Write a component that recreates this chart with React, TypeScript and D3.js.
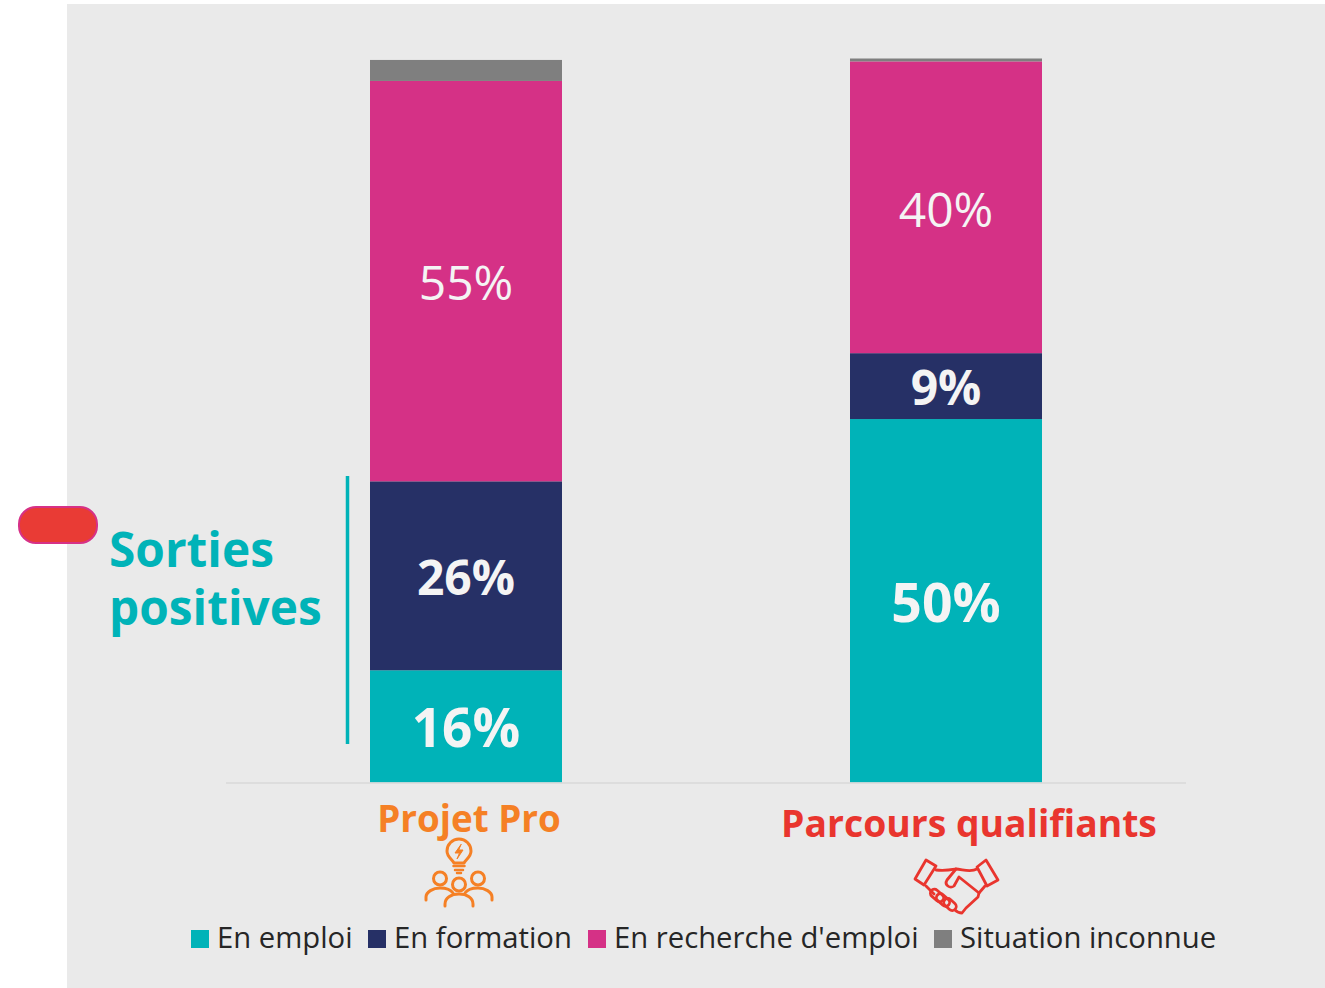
import React from "react";
import * as d3 from "d3";

const categories = ["Projet Pro", "Parcours qualifiants"];
const seriesNames = ["En emploi", "En formation", "En recherche d'emploi", "Situation inconnue"];
const enEmploi = [15.5, 50.2];
const enFormation = [26.1, 9.1];
const enRecherche = [55.3, 40.3];
const inconnue = [2.9, 0.4];
const seriesColors = ["#00B3B8", "#263066", "#D53186", "#7F7F7F"];
const seriesValues = [enEmploi, enFormation, enRecherche, inconnue];
const FONT = "'Open Sans', sans-serif";

const W = 1325, H = 988;
const labelStyle = [
  [{ size: 53, weight: 700 }, { size: 48, weight: 700 }, { size: 48, weight: 400 }],
  [{ size: 53.5, weight: 700 }, { size: 48, weight: 700 }, { size: 48, weight: 400 }],
];

function BulbIcon() {
  const c = "#F58025";
  return (
    <g fill="none" stroke={c} strokeWidth={3} strokeLinecap="round" strokeLinejoin="round">
      <path d="M454 863 C452 859 447 857 447 851 A12 12 0 1 1 471 851 C471 857 466 859 464 863 Z" />
      <path d="M461 844.500 L455 853 L459.500 853 L457 859 L463 850 L459 850 Z" fill={c} strokeWidth={1} />
      <path d="M453.500 866 H464.500 M455 870 H463" strokeWidth={2.500} />
      <path d="M457 873 H461" strokeWidth={2.500} />
      <circle cx={440} cy={878.500} r={6.500} />
      <circle cx={459} cy={884.500} r={6.500} />
      <circle cx={478} cy={878.500} r={6.500} />
      <path d="M426 900 V897 C426 892 433 888 440 888 C446 888 451 890 453 893" />
      <path d="M492 900 V897 C492 892 485 888 478 888 C472 888 467 890 465 893" />
      <path d="M445 906 V904 C445 898 451 894 459 894 C467 894 473 898 473 904 V906" />
    </g>
  );
}

function HandshakeIcon() {
  const c = "#E9352E";
  return (
    <g fill="none" stroke={c} strokeWidth={2.800} strokeLinecap="round" strokeLinejoin="round">
      <path d="M926 860 L936 866 L924 885 L915 879 Z" />
      <path d="M986 860 L998 880 L987 886 L977 867 Z" />
      <path d="M936 870 C945 871 950 870 956 869 C962 869 970 873 977 869" />
      <path d="M956 869 L947 880 C944 885 950 889 954 886 L959 877 L979 893 L978 897 L966 908 L962 913 C958 913 957 912 955 910" />
      <path d="M926 886 L934 894" />
      <path d="M979 893 L985 886" />
      <rect x={933} y={888} width={8} height={15} rx={4} transform="rotate(-48 937 895.500)" />
      <rect x={939} y={892.500} width={8} height={15} rx={4} transform="rotate(-48 943 900)" />
      <rect x={946} y={897.500} width={8} height={14} rx={4} transform="rotate(-48 950 904.500)" />
    </g>
  );
}

export default function App() {
  const x = d3.scaleBand<string>().domain(categories).range([226, 1186]).paddingInner(0.6).paddingOuter(0.3);
  const y = d3.scaleLinear().domain([0, 100]).range([782.5, 58.5]);
  const rows = categories.map((c, i) => {
    const o: Record<string, number | string> = { cat: c };
    seriesNames.forEach((s, j) => { o[s] = seriesValues[j][i]; });
    return o;
  });
  const stacked = d3.stack<any>().keys(seriesNames)(rows);
  const fmt = d3.format(".0f");
  const legendX = [191, 368, 588, 934];

  return (
    <svg width={W} height={H} viewBox={`0 0 ${W} ${H}`} style={{ position: "fixed", left: 0, top: 0, display: "block" }} fontFamily={FONT}>
      <rect x={0} y={0} width={W} height={H} fill="#fff" />
      <rect x={67} y={4} width={W - 67} height={H - 4} fill="#EAEAEA" />
      {stacked.map((layer, j) => (
        <g key={seriesNames[j]}>
          {layer.map((d, i) => (
            <rect key={i} x={x(categories[i])} width={x.bandwidth()} y={y(d[1])} height={y(d[0]) - y(d[1])} fill={seriesColors[j]} />
          ))}
        </g>
      ))}
      <line x1={226} x2={1186} y1={783} y2={783} stroke="#D9D9D9" strokeWidth={1.500} />
      {stacked.slice(0, 3).map((layer, j) => layer.map((d, i) => {
        const st = labelStyle[i][j];
        return (
          <text key={`${j}-${i}`} x={x(categories[i])! + x.bandwidth() / 2} y={(y(d[0]) + y(d[1])) / 2 + 2}
            dy="0.36em" textAnchor="middle" fill="#F4F4F4" fontSize={st.size} fontWeight={st.weight}>
            {fmt(seriesValues[j][i])}%
          </text>
        );
      }))}
      <line x1={347.500} x2={347.500} y1={476} y2={744} stroke="#00B3B8" strokeWidth={3.500} />
      <text x={109} y={567} fontSize={47.800} fontWeight={700} fill="#00B3B8">Sorties</text>
      <text x={109} y={625} fontSize={47.800} fontWeight={700} fill="#00B3B8">positives</text>
      <rect x={19} y={507} width={78} height={36} rx={17} fill="#E93B35" stroke="#D63187" strokeWidth={2} />
      <text x={469} y={832} textAnchor="middle" fontSize={36.800} fontWeight={700} fill="#F58025">{categories[0]}</text>
      <text x={969} y={837} textAnchor="middle" fontSize={37.300} fontWeight={700} fill="#E9352E">{categories[1]}</text>
      <BulbIcon />
      <HandshakeIcon />
      {seriesNames.map((s, j) => (
        <g key={s}>
          <rect x={legendX[j]} y={930} width={18} height={18} fill={seriesColors[j]} />
          <text x={legendX[j] + 26} y={948} fontSize={29.250} fill="#262626">{s}</text>
        </g>
      ))}
    </svg>
  );
}
